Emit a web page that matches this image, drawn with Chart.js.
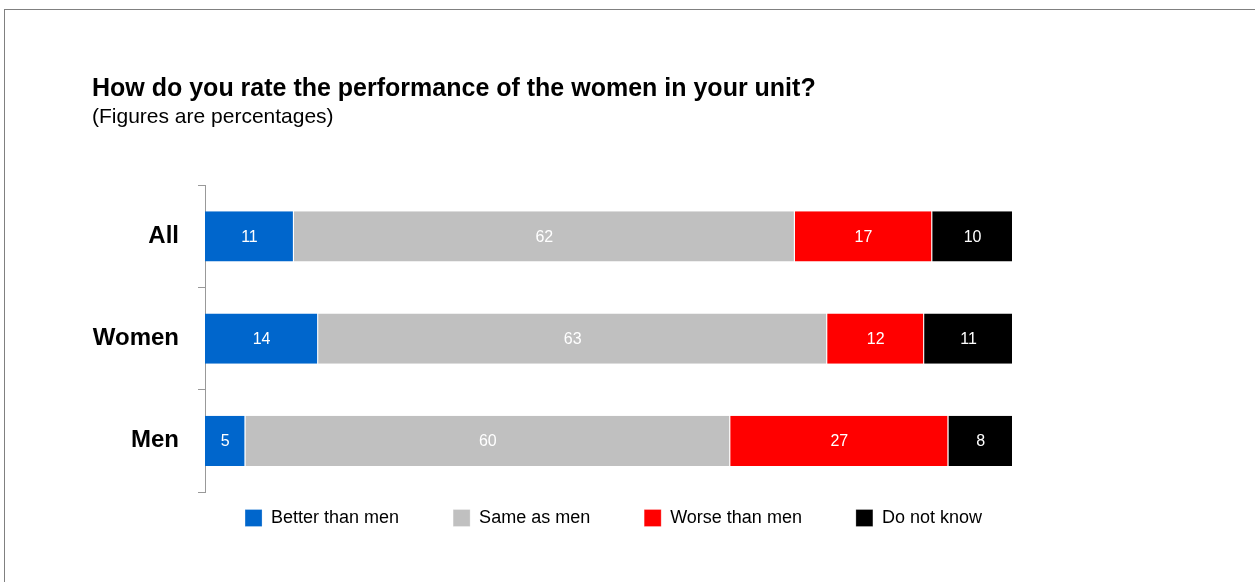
<!DOCTYPE html>
<html><head><meta charset="utf-8">
<script src="https://cdn.jsdelivr.net/npm/chart.js@4"></script>
<style>
html,body{margin:0;padding:0;background:#fff;}
#wrap{position:relative;width:1255px;height:582px;overflow:hidden;}
#frame{position:absolute;left:4px;top:9px;width:1300px;height:600px;border-left:1px solid #808080;border-top:1px solid #808080;}
canvas{position:absolute;left:0;top:0;}
</style></head><body>
<div id="wrap"><div id="frame"></div><canvas id="c" width="1255" height="582"></canvas></div>
<script>
const categories = ['All', 'Women', 'Men'];
const seriesNames = ['Better than men', 'Same as men', 'Worse than men', 'Do not know'];
const betterThanMen = [11, 14, 5];
const sameAsMen = [62, 63, 60];
const worseThanMen = [17, 12, 27];
const doNotKnow = [10, 11, 8];
const seriesColors = ['#0066CC', '#C0C0C0', '#FF0000', '#000000'];
const titleText = 'How do you rate the performance of the women in your unit?';
const subtitleText = '(Figures are percentages)';

const FONT = "'Liberation Sans', Arial, sans-serif";
Chart.defaults.font.family = FONT;
Chart.defaults.color = '#000';

const seriesValues = [betterThanMen, sameAsMen, worseThanMen, doNotKnow];

const valueLabels = {
  id: 'valueLabels',
  afterDatasetsDraw(chart) {
    const ctx = chart.ctx;
    ctx.save();
    ctx.font = '16px ' + FONT;
    ctx.fillStyle = '#fff';
    ctx.textAlign = 'center';
    ctx.textBaseline = 'middle';
    chart.data.datasets.forEach((ds, i) => {
      chart.getDatasetMeta(i).data.forEach((el, j) => {
        const p = el.getCenterPoint();
        ctx.fillText(String(ds.data[j]), p.x, p.y + 1);
      });
    });
    ctx.restore();
  }
};

const legendShift = {
  id: 'legendShift',
  afterUpdate(chart) {
    const l = chart.legend;
    if (!l) return;
    const dx = 61, dy = -37;
    l.left += dx; l.right += dx; l.top += dy; l.bottom += dy;
  }
};

new Chart(document.getElementById('c'), {
  type: 'bar',
  data: {
    labels: categories,
    datasets: seriesNames.map((name, i) => ({
      label: name,
      data: seriesValues[i],
      backgroundColor: seriesColors[i],
      borderColor: '#ffffff',
      borderWidth: {top: 0, bottom: 0, left: 0, right: 1},
      borderSkipped: false,
      barPercentage: 0.49,
      categoryPercentage: 1
    }))
  },
  options: {
    indexAxis: 'y',
    responsive: false,
    animation: false,
    layout: {padding: {left: 92, right: 242, top: 74, bottom: 8}},
    scales: {
      x: {stacked: true, min: 0, max: 100, display: false},
      y: {
        stacked: true,
        afterFit: s => { s.width = 113; },
        grid: {display: true, drawOnChartArea: false, drawTicks: true, tickLength: 7, color: '#999', offset: true},
        border: {display: true, color: '#999', width: 1},
        ticks: {padding: 19, color: '#000', font: {size: 24, weight: 'bold', family: FONT}}
      }
    },
    plugins: {
      tooltip: {enabled: false},
      title: {display: true, text: titleText, align: 'start', color: '#000',
        font: {size: 25, weight: 'bold', family: FONT, lineHeight: 1.2}, padding: {top: 0, bottom: 0}},
      subtitle: {display: true, text: subtitleText, align: 'start', color: '#000',
        font: {size: 21, weight: 'normal', family: FONT, lineHeight: 1.2}, padding: {top: 1, bottom: 55}},
      legend: {
        display: true, position: 'bottom', align: 'center',
        labels: {boxWidth: 17, boxHeight: 17, padding: 54, color: '#000', font: {size: 18, family: FONT}}
      }
    }
  },
  plugins: [valueLabels, legendShift]
});
</script>
</body></html>
